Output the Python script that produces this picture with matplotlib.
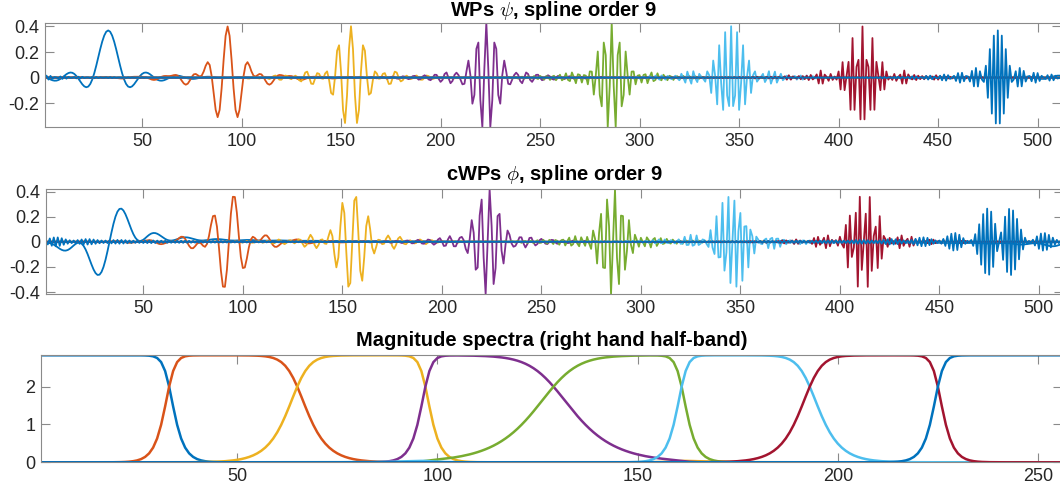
import numpy as np
import matplotlib
matplotlib.use("Agg")
import matplotlib.pyplot as plt

# ---- parameters ----
N = 512                      # signal length (time axis 1..512)
n_levels = 3                 # 8 packets, spectra peak at 2*sqrt(2)
spline_p = 10                # Butterworth-type spline filter exponent (transition widths)
packet_shifts = [32, 96, 160, 224, 288, 352, 416, 480]   # placement of packets on time axis
colors = ["#0072BD", "#D95319", "#EDB120", "#7E2F8E",
          "#77AC30", "#4DBEEE", "#A2142F", "#0072BD"]
titles = [r"WPs $\psi$, spline order 9",
          r"cWPs $\phi$, spline order 9",
          "Magnitude spectra (right hand half-band)"]
time_xticks = [50, 100, 150, 200, 250, 300, 350, 400, 450, 500]
wp_yticks = [-0.2, 0, 0.2, 0.4]
cwp_yticks = [-0.4, -0.2, 0, 0.2, 0.4]
spec_xticks = [50, 100, 150, 200, 250]
spec_yticks = [0, 1, 2]

plt.rcParams["font.family"] = ["Liberation Sans", "DejaVu Sans"]
plt.rcParams["mathtext.fontset"] = "cm"

# ---- spline wavelet-packet filters ----
def h_filt(w):
    c = np.abs(np.cos(w / 2)) ** spline_p
    s = np.abs(np.sin(w / 2)) ** spline_p
    return np.sqrt(2) * c / np.sqrt(c ** 2 + s ** 2)

def g_filt(w):
    return np.exp(1j * w) * h_filt(w + np.pi)

nu = 2 * np.pi * np.arange(N) / N
k = np.arange(N)
sgn = np.where((k > 0) & (k < N // 2), 1.0, np.where(k > N // 2, -1.0, 0.0))

psi_list, phi_list, spec_list = [], [], []
for b in range(2 ** n_levels):
    nb = (b + 0.5) * np.pi / 2 ** n_levels
    spec = np.ones(N, dtype=complex)
    for j in range(n_levels):
        wb = 2 ** j * nb
        f = h_filt if abs(h_filt(wb)) > abs(g_filt(wb)) else g_filt
        spec = spec * f(2 ** j * nu)
    spec_list.append(np.abs(spec[:N // 2]))
    spec_shift = spec * np.exp(-1j * nu * packet_shifts[b])
    psi_list.append(np.real(np.fft.ifft(spec_shift)))
    phi_list.append(np.real(np.fft.ifft(-1j * sgn * spec_shift)))

t = np.arange(1, N + 1)
fr = np.arange(1, N // 2 + 1)

fig = plt.figure(figsize=(10.6, 4.96), dpi=100)
ax1 = fig.add_axes([44.5 / 1060, (496 - 127) / 496, 1017 / 1060, 104.3 / 496])
ax2 = fig.add_axes([45.8 / 1060, (496 - 294.3) / 496, 1017 / 1060, 105 / 496])
ax3 = fig.add_axes([41 / 1060, (496 - 462.3) / 496, 1021 / 1060, 107 / 496])

for b in range(2 ** n_levels):
    ax1.plot(t, psi_list[b], color=colors[b], lw=1.3)
    ax2.plot(t, phi_list[b], color=colors[b], lw=1.3)
    ax3.plot(fr, spec_list[b], color=colors[b], lw=1.8)

allpsi = np.concatenate(psi_list)
allphi = np.concatenate(phi_list)
ax1.set_xlim(1, N)
ax1.set_ylim(allpsi.min(), allpsi.max())
ax2.set_xlim(1, N)
ax2.set_ylim(allphi.min(), allphi.max())
ax3.set_xlim(1, N // 2)
ax3.set_ylim(0, np.max(spec_list))

ax1.set_xticks(time_xticks)
ax2.set_xticks(time_xticks)
ax3.set_xticks(spec_xticks)
ax1.set_yticks(wp_yticks)
ax2.set_yticks(cwp_yticks)
ax3.set_yticks(spec_yticks)
ax1.set_yticklabels(["-0.2", "0", "0.2", "0.4"])
ax2.set_yticklabels(["-0.4", "-0.2", "0", "0.2", "0.4"])

for ax, ttl, pd in zip([ax1, ax2, ax3], titles, [4.8, 6.5, 6.5]):
    ax.set_title(ttl, fontsize=14.5, fontweight="bold", pad=pd, color="black")
    for sp in ax.spines.values():
        sp.set_color("#8a8a8a")
        sp.set_linewidth(0.8)
    ax.tick_params(direction="in", length=6.5, width=0.8, color="#8a8a8a",
                   labelsize=13, labelcolor="#262626", top=True, right=True, pad=4)

fig.savefig("out.png", dpi=100)
